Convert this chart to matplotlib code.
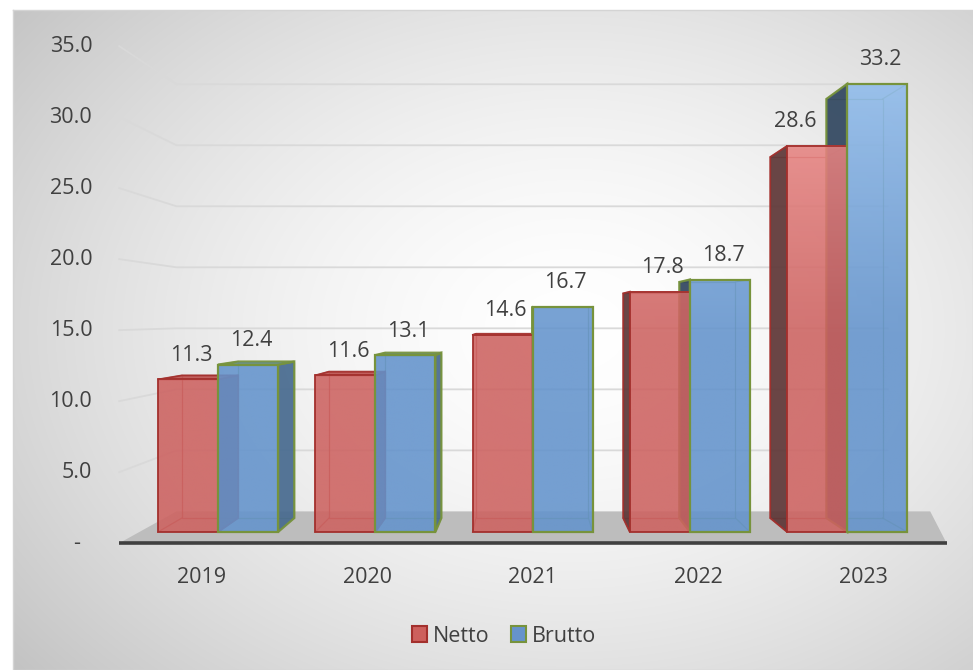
import numpy as np
import matplotlib.pyplot as plt
from matplotlib.patches import Polygon, Patch
from matplotlib.colors import to_rgb

# data
years = ['2019', '2020', '2021', '2022', '2023']
netto = [11.3, 11.6, 14.6, 17.8, 28.6]
brutto = [12.4, 13.1, 16.7, 18.7, 33.2]
y_ticks = [0, 5, 10, 15, 20, 25, 30, 35]

plt.rcParams['font.family'] = ['Open Sans', 'DejaVu Sans']
TXT = '#404040'
FS = 15.5

W, H = 973, 670
PX = 0.72  # points per pixel at dpi 100
fig = plt.figure(figsize=(W / 100, H / 100), dpi=100)

# chart area background: radial grey gradient
bg = fig.add_axes([0, 0, 1, 1])
bg.set_xlim(0, W)
bg.set_ylim(H, 0)
bg.axis('off')
yy, xx = np.mgrid[0:H, 0:W]
r = np.hypot((xx - 570) / 640, (yy - 330) / 470)
grey = (255 - 62 * np.clip(r / 1.15, 0, 1) ** 1.6) / 255
grey[(xx < 13) | (yy < 10)] = 1.0
bg.imshow(np.dstack([grey] * 3), extent=(0, W, H, 0), interpolation='bilinear')
bg.plot([13, W, W, 13, 13], [10, 10, H, H, 10], color='#d4d4d4', lw=1)

# main axes: x = category index, y = value on the front plane
ax = fig.add_axes([0, 0, 1, 1])
XLIM = (-218 / 157.3, (W - 218) / 157.3)
YLIM = (-(H - 532) / 13.5, 532 / 13.5)
ax.axis('off')
ax.patch.set_alpha(0)

# simple perspective towards a vanishing point
VX, VY = 1.964, 15.9
S_BAR, S_WALL, S_FLOOR = 0.935, 0.904, 1.052


def proj(x, v, s):
    return VX + s * (x - VX), VY + s * (v - VY)


# floor and back wall grid
floor = [proj(-0.5, 0, S_FLOOR), proj(4.5, 0, S_FLOOR), proj(4.8, 0, S_WALL), proj(-0.5, 0, S_WALL)]
ax.add_patch(Polygon(floor, closed=True, facecolor='#bdbdbd', edgecolor='none', zorder=1))
fx = [proj(-0.5, 0, S_FLOOR)[0], proj(4.5, 0, S_FLOOR)[0]]
fy = proj(0, 0, S_FLOOR)[1]
ax.plot(fx, [fy, fy], color='#404040', lw=2.6, solid_capstyle='butt', zorder=2)

for v in y_ticks[1:]:
    pts = [proj(-0.5, v, S_FLOOR), proj(-0.5, v, S_WALL), proj(4.5, v, S_WALL)]
    ax.plot([p[0] for p in pts], [p[1] for p in pts], color='#d9d9d9', lw=1.3, zorder=1)

for v in y_ticks:
    lab = f'{v:.1f}' if v else '-  '
    ax.annotate(lab, proj(-0.5, v, S_FLOOR), xytext=(-27 * PX, 0), textcoords='offset points',
                ha='right', va='center', fontsize=FS, color=TXT)

for i, yr in enumerate(years):
    ax.annotate(yr, proj(i, 0, S_FLOOR), xytext=(0, -34 * PX), textcoords='offset points',
                ha='center', va='center', fontsize=FS, color=TXT)

# bars
bw = 0.382
styles = [
    dict(low='#cd6260', high='#f0908e', edge='#a3302d', lw=1.3, top='#bd5451', left='#5e3636', right='#8c3a38'),
    dict(low='#6393cc', high='#8fbbeb', edge='#77933c', lw=1.6, top='#5f8bc0', left='#30465f', right='#476a8f'),
]
boxes = []
for k, vals in enumerate([netto, brutto]):
    for i, h in enumerate(vals):
        x0 = i - bw if k == 0 else i
        boxes.append((k, i, x0, x0 + bw, h))

# hidden edges seen through the translucent faces
for k, i, x0, x1, h in boxes:
    st = styles[k]
    back = [proj(x, v, S_BAR) for x, v in [(x0, 0), (x1, 0), (x1, h), (x0, h)]]
    ax.add_patch(Polygon(back, closed=True, fill=False, edgecolor=st['edge'], lw=0.9, alpha=0.7, zorder=3))
    for x, v in [(x0, 0), (x1, 0), (x1, h), (x0, h)]:
        b = proj(x, v, S_BAR)
        ax.plot([x, b[0]], [v, b[1]], color=st['edge'], lw=0.9, alpha=0.7, zorder=3)

# side and top faces
for k, i, x0, x1, h in boxes:
    st = styles[k]
    if x1 < VX:
        side = [(x1, 0), (x1, h), proj(x1, h, S_BAR), proj(x1, 0, S_BAR)]
        ax.add_patch(Polygon(side, closed=True, facecolor=st['right'], edgecolor=st['edge'],
                             lw=st['lw'], alpha=0.92, zorder=4))
    if x0 > VX:
        side = [(x0, 0), (x0, h), proj(x0, h, S_BAR), proj(x0, 0, S_BAR)]
        ax.add_patch(Polygon(side, closed=True, facecolor=st['left'], edgecolor=st['edge'],
                             lw=st['lw'], alpha=0.92, zorder=4))
    if h < VY:
        top = [(x0, h), (x1, h), proj(x1, h, S_BAR), proj(x0, h, S_BAR)]
        ax.add_patch(Polygon(top, closed=True, facecolor=st['top'], edgecolor=st['edge'],
                             lw=st['lw'], alpha=0.92, zorder=4))

# front faces, lighter towards the top of the chart
for k, i, x0, x1, h in boxes:
    st = styles[k]
    lo, hi = np.array(to_rgb(st['low'])), np.array(to_rgb(st['high']))
    v = np.linspace(0, h, 200)
    t = np.clip((v - 14) / 19, 0, 1) ** 1.2
    rgb = lo[None, :] + (hi - lo)[None, :] * t[:, None]
    img = np.dstack([rgb[:, 0], rgb[:, 1], rgb[:, 2], np.full(len(v), 0.88)]).reshape(len(v), 1, 4)
    ax.imshow(img, extent=(x0, x1, 0, h), origin='lower', aspect='auto', interpolation='bilinear', zorder=5)
    ax.add_patch(Polygon([(x0, 0), (x1, 0), (x1, h), (x0, h)], closed=True, fill=False,
                         edgecolor=st['edge'], lw=st['lw'], zorder=5.5))

ax.set_xlim(*XLIM)
ax.set_ylim(*YLIM)

# data labels
label_dx = {(0, 4): -22}
for k, i, x0, x1, h in boxes:
    dx = label_dx.get((k, i), 3)
    ax.annotate(f'{h:.1f}', ((x0 + x1) / 2, h), xytext=(dx * PX, 24 * PX), textcoords='offset points',
                ha='center', va='center', fontsize=FS, color=TXT, zorder=6)

handles = [Patch(facecolor='#cd605d', edgecolor='#a3302d', lw=1.5),
           Patch(facecolor='#6693cb', edgecolor='#77933c', lw=1.5)]
fig.legend(handles, ['Netto', 'Brutto'], loc='center', bbox_to_anchor=(504 / W, 1 - 636 / H), ncol=2,
           frameon=False, fontsize=FS, handlelength=0.7, handleheight=0.7, handletextpad=0.25,
           columnspacing=1.0, labelcolor=TXT)

fig.savefig('out.png', dpi=100)
